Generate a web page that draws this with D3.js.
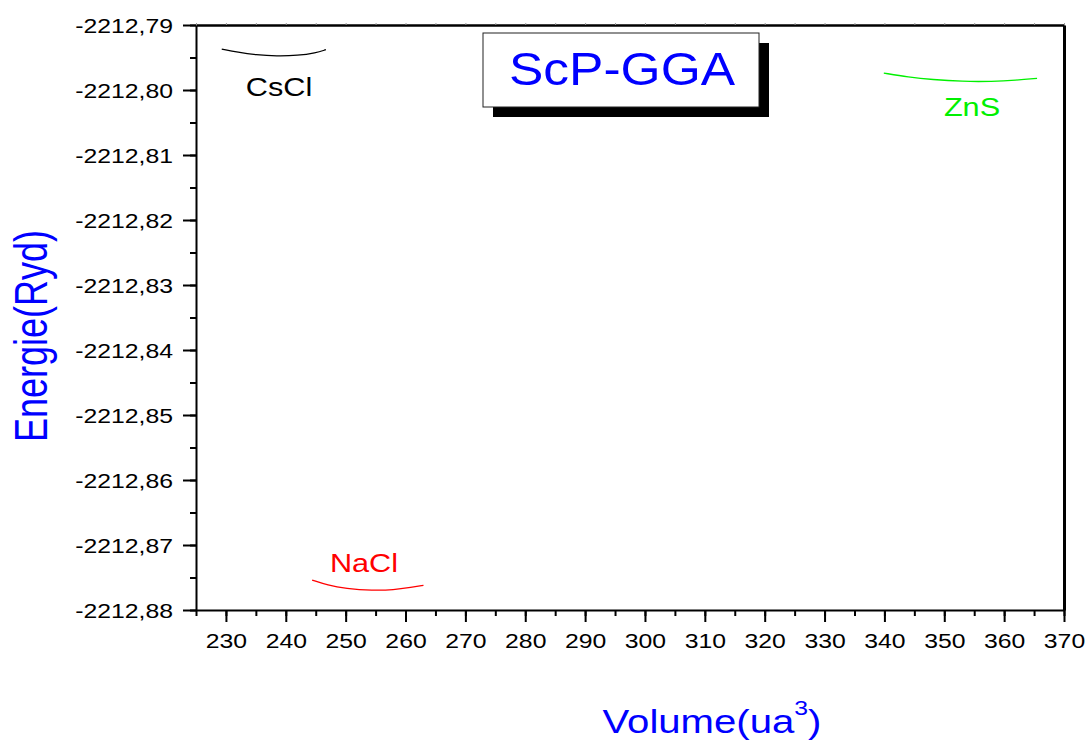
<!DOCTYPE html>
<html>
<head>
<meta charset="utf-8">
<script src="https://cdn.jsdelivr.net/npm/d3@7"></script>
<style>
  body { margin: 0; background: #fff; }
  text { font-family: Arial, "Liberation Sans", sans-serif; }
</style>
</head>
<body>
<svg id="chart"></svg>
<script>
// values
var xTicks = [230, 240, 250, 260, 270, 280, 290, 300, 310, 320, 330, 340, 350, 360, 370];
var yTicks = [-2212.79, -2212.80, -2212.81, -2212.82, -2212.83, -2212.84, -2212.85, -2212.86, -2212.87, -2212.88];

var csclVol = [229.3, 232, 235, 238.5, 242, 245, 246.7];
var csclE   = [-2212.7937, -2212.7942, -2212.7946, -2212.7948, -2212.7947, -2212.7943, -2212.7938];

var naclVol = [244.4, 247, 250, 254.5, 258, 261, 263];
var naclE   = [-2212.8754, -2212.8762, -2212.8767, -2212.8770, -2212.8769, -2212.8765, -2212.8762];

var znsVol = [339.9, 344, 348, 353, 358, 362, 365.5];
var znsE   = [-2212.7974, -2212.7980, -2212.7984, -2212.7987, -2212.7987, -2212.7985, -2212.7982];

var series = [
  {name: "CsCl", vol: csclVol, e: csclE, color: "#000000", lx: 279, ly: 96},
  {name: "NaCl", vol: naclVol, e: naclE, color: "#ff0000", lx: 364, ly: 572},
  {name: "ZnS",  vol: znsVol,  e: znsE,  color: "#00f000", lx: 972, ly: 116}
];

(function () {
  var W = 1089, H = 745;
  var margin = {top: 25, right: 25, bottom: 135, left: 196};
  var width = W - margin.left - margin.right,
      height = H - margin.top - margin.bottom;
  var sx = 1.18; // text looks horizontally stretched in the original

  var svg = d3.select("#chart").attr("width", W).attr("height", H);
  var g = svg.append("g").attr("transform", "translate(" + margin.left + "," + margin.top + ")");

  var x = d3.scaleLinear().domain([225, 370]).range([0, width]);
  var y = d3.scaleLinear().domain([-2212.88, -2212.79]).range([height, 0]);

  // plain hyphen and decimal comma, as in the original
  var fmt = function (d) { return d3.format(".2f")(d).replace("\u2212", "-").replace(".", ","); };

  // minor ticks
  var xMinor = d3.range(225, 371, 5);
  var yMinor = d3.range(0, 19).map(function (i) { return -2212.88 + i * 0.005; });

  g.append("g")
    .attr("transform", "translate(0," + height + ")")
    .call(d3.axisBottom(x).tickValues(xMinor).tickSize(6).tickFormat(""))
    .call(function (a) { a.select(".domain").remove(); a.selectAll("line").attr("stroke-width", 2); });

  g.append("g")
    .call(d3.axisLeft(y).tickValues(yMinor).tickSize(6).tickFormat(""))
    .call(function (a) { a.select(".domain").remove(); a.selectAll("line").attr("stroke-width", 2); });

  // top axis with tiny grey ticks
  g.append("g")
    .call(d3.axisTop(x).tickValues(xMinor).tickSize(2).tickFormat("").tickSizeOuter(0))
    .call(function (a) {
      a.select(".domain").attr("stroke-width", 2.5);
      a.selectAll("line").attr("stroke", "#999");
    });

  // right axis
  g.append("g")
    .attr("transform", "translate(" + width + ",0)")
    .call(d3.axisRight(y).tickValues([]).tickSizeOuter(0))
    .call(function (a) { a.select(".domain").attr("stroke-width", 3); });

  // bottom axis
  g.append("g")
    .attr("transform", "translate(0," + height + ")")
    .call(d3.axisBottom(x).tickValues(xTicks).tickSize(12).tickSizeOuter(0).tickPadding(0))
    .call(function (a) {
      a.select(".domain").attr("stroke-width", 2);
      a.selectAll("line").attr("stroke-width", 2);
      a.selectAll("text")
        .attr("y", 38).attr("dy", 0)
        .attr("fill", "#000")
        .style("font-size", "21px")
        .attr("transform", "scale(" + sx + ",1)");
    });

  // left axis
  g.append("g")
    .call(d3.axisLeft(y).tickValues(yTicks).tickSize(13).tickSizeOuter(0).tickFormat(fmt))
    .call(function (a) {
      a.select(".domain").attr("stroke-width", 2);
      a.selectAll("line").attr("stroke-width", 2);
      a.selectAll("text")
        .attr("x", -23 / sx).attr("dy", "0.35em")
        .attr("fill", "#000")
        .style("font-size", "21px")
        .attr("transform", "scale(" + sx + ",1)");
    });

  // curves
  var line = d3.line()
    .curve(d3.curveBasis)
    .x(function (d) { return x(d[0]); })
    .y(function (d) { return y(d[1]); });

  series.forEach(function (s) {
    var pts = s.vol.map(function (v, i) { return [v, s.e[i]]; });
    g.append("path")
      .attr("d", line(pts))
      .style("fill", "none")
      .style("stroke", s.color)
      .style("stroke-width", 1.3);

    svg.append("text")
      .attr("transform", "translate(" + s.lx + "," + s.ly + ") scale(" + sx + ",1)")
      .attr("text-anchor", "middle")
      .style("font-size", "26px")
      .attr("fill", s.color)
      .text(s.name);
  });

  // title box with shadow
  svg.append("rect")
    .attr("x", 493).attr("y", 43).attr("width", 276).attr("height", 74)
    .attr("fill", "#000");
  svg.append("rect")
    .attr("x", 483).attr("y", 33).attr("width", 276).attr("height", 74)
    .attr("fill", "#fff").attr("stroke", "#222").attr("stroke-width", 1);
  svg.append("text")
    .attr("transform", "translate(622,85) scale(1.12,1)")
    .attr("text-anchor", "middle")
    .style("font-size", "46px")
    .attr("fill", "#0000ff")
    .text("ScP-GGA");

  // axis titles
  var xl = svg.append("text")
    .attr("transform", "translate(712,733) scale(" + sx + ",1)")
    .attr("text-anchor", "middle")
    .style("font-size", "34px")
    .attr("fill", "#0000ff");
  xl.append("tspan").text("Volume(ua");
  xl.append("tspan").attr("dy", -18).style("font-size", "21px").text("3");
  xl.append("tspan").attr("dy", 18).text(")");

  svg.append("text")
    .attr("transform", "translate(47,336) rotate(-90) scale(1,1.3)")
    .attr("text-anchor", "middle")
    .style("font-size", "36px")
    .attr("fill", "#0000ff")
    .text("Energie(Ryd)");
})();
</script>
</body>
</html>
